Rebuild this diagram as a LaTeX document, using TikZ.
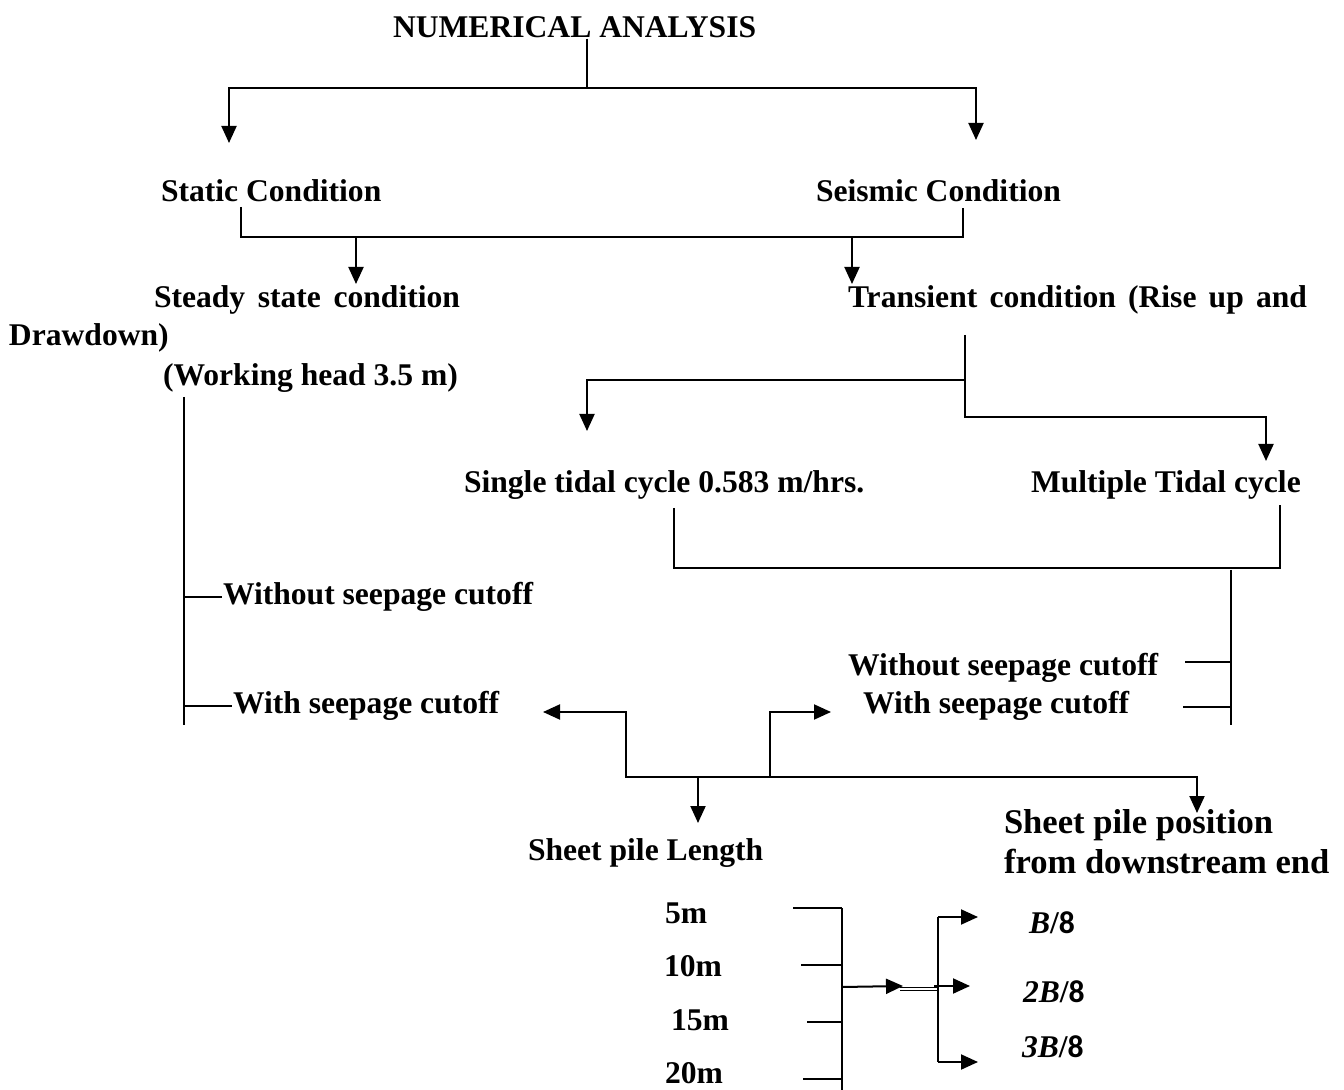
\documentclass[tikz,border=0pt]{standalone}
\usepackage{fontspec}
\setmainfont{Liberation Serif}
\newfontfamily\sansdigit{Carlito}
\usetikzlibrary{arrows.meta}
\tikzset{>={Triangle[length=8.5pt,width=7.5pt]}}
\tikzset{lbl/.style={font=\bfseries\fontsize{15.8}{20}\selectfont, inner sep=0pt, anchor=west}}

\begin{document}
\begin{tikzpicture}[x=0.5pt, y=-0.5pt, line width=1pt]
    \useasboundingbox (0,0) rectangle (1344,1090);
    % labels
    \node[lbl] (title) at (392,27) {NUMERICAL ANALYSIS};
    \node[lbl] (static) at (160,191) {Static Condition};
    \node[lbl] (seismic) at (815,191) {Seismic Condition};
    \node[lbl] (steady) at (153,300) {\makebox[153pt][s]{Steady\hfill state\hfill condition}};
    \node[lbl] (drawdown) at (8,338) {Drawdown)};
    \node[lbl] (workhead) at (162,378) {(Working head 3.5 m)};
    \node[lbl] (transient) at (847,300) {\makebox[229.5pt][s]{Transient\hfill condition\hfill (Rise\hfill up\hfill and}};
    \node[lbl] (single) at (463,485) {Single tidal cycle 0.583 m/hrs.};
    \node[lbl] (multiple) at (1030,485) {Multiple Tidal cycle};
    \node[lbl] (withoutL) at (222,597) {Without seepage cutoff};
    \node[lbl] (withL) at (232,706) {With seepage cutoff};
    \node[lbl] (withoutR) at (847,668) {Without seepage cutoff};
    \node[lbl] (withR) at (862,706) {With seepage cutoff};
    \node[lbl] (length) at (527,853) {Sheet pile Length};
    \node[lbl, align=left, font=\bfseries\fontsize{17.3}{20}\selectfont] (position) at (1003,842) {Sheet pile position\\from downstream end};
    \node[lbl] (len5) at (664,913) {5m};
    \node[lbl] (len10) at (663,966) {10m};
    \node[lbl] (len15) at (670,1020) {15m};
    \node[lbl] (len20) at (664,1073) {20m};
    \node[lbl] (pos1) at (1028,923) {\textit{B}/{\sansdigit 8}};
    \node[lbl] (pos2) at (1022,992) {\textit{2B}/{\sansdigit 8}};
    \node[lbl] (pos3) at (1021,1047) {\textit{3B}/{\sansdigit 8}};

    % junction points
    \coordinate (topj) at (587,88);
    \coordinate (staticin) at (229,143);
    \coordinate (seismicin) at (976,140);
    \coordinate (condL) at (241,207);
    \coordinate (condR) at (963,208);
    \coordinate (condj) at (600,237);
    \coordinate (steadyin) at (356,284);
    \coordinate (transin) at (852,284);
    \coordinate (steadyj) at (184,397);
    \coordinate (transj) at (965,335);
    \coordinate (singlein) at (587,431);
    \coordinate (multin) at (1266,461);
    \coordinate (tideL) at (674,508);
    \coordinate (tideR) at (1280,505);
    \coordinate (tidej) at (1231,570);
    \coordinate (cutL) at (543,712);
    \coordinate (cutR) at (831,712);
    \coordinate (pileL) at (626,777);
    \coordinate (pileR) at (770,777);
    \coordinate (lengthin) at (698,823);
    \coordinate (positionin) at (1197,813);
    \coordinate (lenj) at (842,908);
    \coordinate (posj) at (938,917);

    % connectors
    \draw (title.south -| topj) -- (topj);
    \draw[<->] (staticin) |- (topj) -| (seismicin);
    \draw (condL) |- (condj) -| (condR);
    \draw[->] (condj -| steadyin) -- (steadyin);
    \draw[->] (condj -| transin) -- (transin);
    \draw (steadyj) -- (184,725);
    \draw (steadyj |- withoutL) -- (withoutL.west);
    \draw (steadyj |- withL) -- (withL.west);
    \draw[->] (965,380) -| (singlein);
    \draw[->] (transj) |- (multin |- 0,417) -- (multin);
    \draw (tideL) |- (tideR |- 0,568) -- (tideR);
    \draw (tidej) -- (1231,725);
    \draw (1185,662) -- (tidej |- 0,662);
    \draw (1183,707) -- (tidej |- 0,707);
    \draw[<->] (cutL) -| (pileL) -- (pileR) |- (cutR);
    \draw[->] (pileL) -| (positionin);
    \draw[->] (pileL -| lengthin) -- (lengthin);
    \draw (793,908) -- (lenj);
    \draw (801,965) -- (lenj |- 0,965);
    \draw (807,1022) -- (lenj |- 0,1022);
    \draw (803,1079) -- (lenj |- 0,1079);
    \draw (lenj) -- (842,1090);
    \draw[->] (842,987) -- (903,986);
    \draw[double, double distance=1pt, line width=0.5pt] (900,989) -- (posj |- 0,989);
    \draw[->] (posj) -- (978,917);
    \draw (posj) -- (938,1062);
    \draw[->] (934,986) -- (970,986);
    \draw[->] (938,1062) -- (978,1062);
\end{tikzpicture}
\end{document}
